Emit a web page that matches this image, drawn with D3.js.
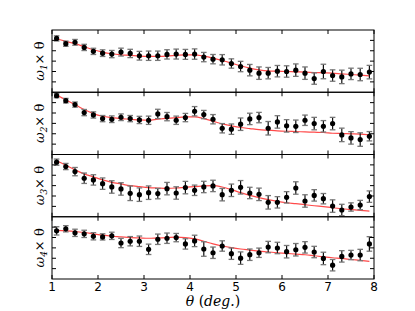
<!DOCTYPE html>
<html>
<head>
<meta charset="utf-8">
<script src="https://cdn.jsdelivr.net/npm/d3@7"></script>
<style>
  body { margin: 0; background: #fff; }
  svg { display: block; }
  .tick-label { font-family: "DejaVu Sans", sans-serif; font-size: 12px; }
  .math { font-family: "DejaVu Serif", serif; font-style: italic; }
</style>
</head>
<body>
<div id="chart"></div>
<script>
// theta values (deg.)
const theta = [1.1, 1.3, 1.5, 1.7, 1.9, 2.1, 2.3, 2.5, 2.7, 2.9, 3.1, 3.3, 3.5, 3.7, 3.9, 4.1, 4.3, 4.5,
               4.7, 4.9, 5.1, 5.3, 5.5, 5.7, 5.9, 6.1, 6.3, 6.5, 6.7, 6.9, 7.1, 7.3, 7.5, 7.7, 7.9];
const xTicks = [1, 2, 3, 4, 5, 6, 7, 8];

// omega_1 x theta (arbitrary units, frame spans 0..6)
const w1 = [5.19, 4.68, 4.81, 4.32, 3.94, 3.77, 3.68, 3.87, 3.74, 3.52, 3.52, 3.52, 3.65, 3.68, 3.65, 3.68, 3.39, 3.19,
            3.13, 2.77, 2.48, 2.13, 1.84, 1.84, 2.03, 2.00, 2.13, 1.84, 1.32, 2.00, 1.61, 1.48, 1.77, 1.71, 1.94];
const e1 = [0.25, 0.25, 0.28, 0.3, 0.3, 0.32, 0.35, 0.38, 0.4, 0.42, 0.45, 0.45, 0.45, 0.48, 0.48, 0.5, 0.45, 0.45,
            0.5, 0.45, 0.5, 0.55, 0.6, 0.55, 0.55, 0.55, 0.6, 0.6, 0.55, 0.7, 0.55, 0.65, 0.55, 0.6, 0.65];
const f1 = [5.16, 4.90, 4.68, 4.39, 4.10, 3.87, 3.71, 3.61, 3.55, 3.48, 3.45, 3.45, 3.48, 3.55, 3.61, 3.61, 3.48, 3.29,
            3.06, 2.81, 2.55, 2.32, 2.16, 2.06, 2.03, 2.00, 1.97, 1.94, 1.90, 1.87, 1.84, 1.77, 1.71, 1.65, 1.58];

// omega_2 x theta
const w2 = [5.67, 5.19, 4.81, 4.04, 3.81, 3.46, 3.40, 3.59, 3.46, 3.33, 3.30, 3.91, 3.65, 3.30, 3.56, 4.17, 3.85, 3.40,
            2.53, 2.44, 2.92, 3.43, 3.56, 2.53, 3.14, 2.76, 2.72, 3.30, 2.98, 2.72, 2.98, 1.89, 1.60, 1.44, 1.76];
const e2 = [0.2, 0.22, 0.25, 0.3, 0.3, 0.3, 0.32, 0.32, 0.3, 0.35, 0.4, 0.45, 0.4, 0.4, 0.4, 0.45, 0.4, 0.45,
            0.45, 0.5, 0.6, 0.55, 0.5, 0.65, 0.6, 0.6, 0.6, 0.5, 0.6, 0.55, 0.6, 0.65, 0.6, 0.65, 0.45];
const f2 = [5.77, 5.26, 4.81, 4.33, 3.94, 3.69, 3.56, 3.46, 3.40, 3.33, 3.30, 3.40, 3.49, 3.56, 3.62, 3.62, 3.46, 3.21,
            2.95, 2.76, 2.60, 2.50, 2.40, 2.34, 2.28, 2.24, 2.21, 2.18, 2.15, 2.12, 2.05, 2.02, 1.99, 1.96, 1.89];

// omega_3 x theta
const w3 = [5.26, 4.84, 4.35, 3.71, 3.55, 3.19, 2.87, 2.68, 2.26, 2.13, 2.32, 2.23, 2.71, 2.29, 2.81, 2.55, 2.87, 2.97,
            2.13, 2.55, 2.84, 2.29, 2.16, 1.39, 1.39, 1.87, 2.77, 1.52, 2.06, 1.74, 1.03, 0.65, 0.94, 1.13, 1.94];
const e3 = [0.3, 0.3, 0.4, 0.5, 0.5, 0.55, 0.6, 0.6, 0.7, 0.65, 0.65, 0.5, 0.6, 0.6, 0.6, 0.5, 0.55, 0.55,
            0.6, 0.6, 0.65, 0.55, 0.6, 0.65, 0.55, 0.55, 0.6, 0.6, 0.55, 0.5, 0.6, 0.55, 0.4, 0.45, 0.55];
const f3 = [5.39, 4.97, 4.52, 4.13, 3.84, 3.55, 3.32, 3.16, 3.00, 2.90, 2.81, 2.77, 2.74, 2.77, 2.84, 2.90, 2.97, 3.00,
            2.87, 2.61, 2.32, 2.06, 1.84, 1.65, 1.48, 1.35, 1.26, 1.16, 1.06, 0.97, 0.87, 0.77, 0.68, 0.61, 0.55];

// omega_4 x theta
const w4 = [4.64, 4.84, 4.45, 4.35, 4.12, 4.06, 4.16, 3.47, 3.64, 3.64, 2.86, 3.83, 3.93, 3.99, 3.38, 3.67, 2.89, 2.53,
            3.18, 2.44, 2.01, 2.34, 2.53, 3.08, 2.99, 2.63, 2.82, 3.05, 2.60, 1.98, 1.33, 2.18, 2.31, 2.31, 3.38];
const e4 = [0.4, 0.3, 0.35, 0.35, 0.35, 0.3, 0.35, 0.45, 0.45, 0.5, 0.5, 0.5, 0.5, 0.4, 0.5, 0.55, 0.7, 0.55,
            0.5, 0.55, 0.6, 0.55, 0.45, 0.55, 0.55, 0.6, 0.6, 0.55, 0.55, 0.6, 0.55, 0.55, 0.45, 0.55, 0.7];
const f4 = [4.68, 4.64, 4.58, 4.48, 4.35, 4.22, 4.12, 4.06, 3.99, 3.96, 3.93, 3.96, 3.99, 4.03, 3.99, 3.86, 3.64, 3.38,
            3.18, 3.02, 2.89, 2.79, 2.69, 2.60, 2.53, 2.47, 2.40, 2.34, 2.24, 2.14, 2.05, 1.98, 1.88, 1.79, 1.69];

const yTicks = [1, 2, 3, 4, 5];
const panels = [
    { sub: "1", vals: w1, errs: e1, fit: f1 },
    { sub: "2", vals: w2, errs: e2, fit: f2 },
    { sub: "3", vals: w3, errs: e3, fit: f3 },
    { sub: "4", vals: w4, errs: e4, fit: f4 }
];

const W = 415, H = 311;
const margin = { left: 52, right: 374, top: 30, bottom: 279 };
const ph = (margin.bottom - margin.top) / panels.length;
const tickLen = 4;

const svg = d3.select("#chart").append("svg")
    .attr("width", W)
    .attr("height", H);

const x = d3.scaleLinear().domain([1, 8]).range([margin.left, margin.right]);

panels.forEach(function (p, i) {
    let y0 = margin.top + i * ph;
    let y = d3.scaleLinear().domain([0, 6]).range([y0 + ph, y0]);
    let g = svg.append("g");

    // fitted curve
    const line = d3.line()
        .x((d, j) => x(theta[j]))
        .y(d => y(d))
        .curve(d3.curveMonotoneX);

    g.append("path")
        .datum(p.fit)
        .attr("fill", "none")
        .attr("stroke", "#ff2a2a")
        .attr("stroke-opacity", 0.85)
        .attr("stroke-width", 1.2)
        .attr("d", line);

    // error bars
    let pts = p.vals.map((v, j) => ({ t: theta[j], v: v, e: p.errs[j] }));

    g.selectAll(".bar")
        .data(pts)
        .enter().append("line")
        .attr("x1", d => x(d.t)).attr("x2", d => x(d.t))
        .attr("y1", d => y(d.v - d.e)).attr("y2", d => y(d.v + d.e))
        .attr("stroke", "#111")
        .attr("stroke-width", 1.2);

    ["lo", "hi"].forEach(function (side) {
        g.selectAll(".cap-" + side)
            .data(pts)
            .enter().append("line")
            .attr("x1", d => x(d.t) - 2.8).attr("x2", d => x(d.t) + 2.8)
            .attr("y1", d => y(side == "lo" ? d.v - d.e : d.v + d.e))
            .attr("y2", d => y(side == "lo" ? d.v - d.e : d.v + d.e))
            .attr("stroke", "#777")
            .attr("stroke-width", 1.3);
    });

    g.selectAll("circle")
        .data(pts)
        .enter().append("circle")
        .attr("cx", d => x(d.t))
        .attr("cy", d => y(d.v))
        .attr("r", 2.6)
        .attr("fill", "#000");

    // frame
    g.append("rect")
        .attr("x", margin.left).attr("y", y0)
        .attr("width", margin.right - margin.left).attr("height", ph)
        .attr("fill", "none")
        .attr("stroke", "#000")
        .attr("stroke-width", 1);

    // inward ticks
    xTicks.forEach(function (t) {
        g.append("line")
            .attr("x1", x(t)).attr("x2", x(t))
            .attr("y1", y0).attr("y2", y0 + tickLen)
            .attr("stroke", "#000");
        g.append("line")
            .attr("x1", x(t)).attr("x2", x(t))
            .attr("y1", y0 + ph).attr("y2", y0 + ph - tickLen)
            .attr("stroke", "#000");
    });
    yTicks.forEach(function (t) {
        g.append("line")
            .attr("x1", margin.left).attr("x2", margin.left + tickLen)
            .attr("y1", y(t)).attr("y2", y(t))
            .attr("stroke", "#000");
        g.append("line")
            .attr("x1", margin.right).attr("x2", margin.right - tickLen)
            .attr("y1", y(t)).attr("y2", y(t))
            .attr("stroke", "#000");
    });

    // y label
    let lab = svg.append("text")
        .attr("class", "math")
        .attr("font-size", 13)
        .attr("text-anchor", "middle")
        .attr("transform", "translate(44," + (y0 + ph / 2) + ") rotate(-90)");
    lab.append("tspan").text("ω");
    lab.append("tspan").attr("font-size", 9).attr("dy", 3).text(p.sub);
    lab.append("tspan").attr("dy", -3).attr("font-style", "normal").text("× θ");
});

// bottom tick labels
svg.selectAll(".tick-label")
    .data(xTicks)
    .enter().append("text")
    .attr("class", "tick-label")
    .attr("x", d => x(d))
    .attr("y", margin.bottom + 12)
    .attr("text-anchor", "middle")
    .text(d => d);

// x label
let xl = svg.append("text")
    .attr("class", "math")
    .attr("x", (margin.left + margin.right) / 2)
    .attr("y", 306)
    .attr("font-size", 14)
    .attr("text-anchor", "middle");
xl.append("tspan").text("θ");
xl.append("tspan").attr("font-style", "normal").text(" (");
xl.append("tspan").text("deg.");
xl.append("tspan").attr("font-style", "normal").text(")");
</script>
</body>
</html>
